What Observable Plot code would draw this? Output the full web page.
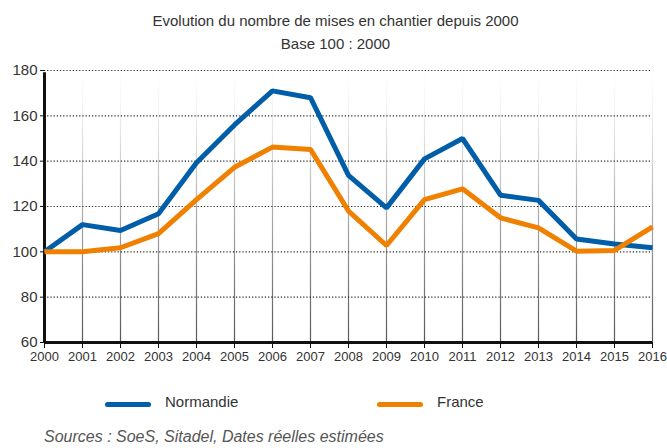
<!DOCTYPE html>
<html>
<head>
<meta charset="utf-8">
<script src="https://cdn.jsdelivr.net/npm/d3@7"></script>
<script src="https://cdn.jsdelivr.net/npm/@observablehq/plot@0.6"></script>
<style>
  html, body { margin: 0; padding: 0; background: #fff; }
  body { width: 667px; height: 448px; overflow: hidden; font-family: "Liberation Sans", sans-serif; color: #333; }
  #title { text-align: center; font-size: 15px; line-height: 23px; padding-top: 9px; height: 49px; padding-left: 4px; }
  #chart { height: 310px; }
  #chart svg { overflow: visible; }
  #legend { position: relative; height: 60px; font-size: 15px; }
  .sw { position: absolute; top: 34px; width: 46px; height: 5px; border-radius: 3px; }
  .lb { position: absolute; top: 25px; }
  #source { font-style: italic; font-size: 16px; line-height: 18px; color: #555; padding-left: 44px; }
</style>
</head>
<body>
<div id="title">Evolution du nombre de mises en chantier depuis 2000<br>Base 100 : 2000</div>
<div id="chart"></div>
<div id="legend">
  <div class="sw" style="left:105px;background:#005ea8"></div><div class="lb" style="left:165px">Normandie</div>
  <div class="sw" style="left:377px;background:#f08000"></div><div class="lb" style="left:437px">France</div>
</div>
<div id="source">Sources : SoeS, Sitadel, Dates réelles estimées</div>
<script>
const years = [2000,2001,2002,2003,2004,2005,2006,2007,2008,2009,2010,2011,2012,2013,2014,2015,2016];
const normandie = [100,112,109.4,116.8,139.3,156,171,168,133.7,119.4,141,150,125,122.7,105.7,103.5,101.8];
const france = [100,100,101.8,108,123,137.3,146.2,145.2,118,102.8,123,127.8,115,110.6,100.3,100.6,111];
const yTicks = [60,80,100,120,140,160,180];
const seriesNames = ["Normandie","France"];
const seriesColors = ["#005ea8","#f08000"];

const data = [];
years.forEach((y,i) => {
  data.push({year: y, value: normandie[i], serie: seriesNames[0]});
  data.push({year: y, value: france[i], serie: seriesNames[1]});
});

const plot = Plot.plot({
  width: 667,
  height: 310,
  marginTop: 12,
  marginBottom: 26,
  marginLeft: 44,
  marginRight: 15,
  style: {fontFamily: '"Liberation Sans", sans-serif', fontSize: "14px", color: "#333", background: "#fff", overflow: "visible"},
  x: {domain: [2000, 2016], label: null},
  y: {domain: [60, 180], label: null},
  color: {domain: seriesNames, range: seriesColors},
  marks: [
    Plot.ruleX(years.slice(1), {stroke: "url(#vgrad)", strokeWidth: 1.2}),
    Plot.ruleY(yTicks.slice(1), {stroke: "#222", strokeDasharray: "1.2,2", strokeWidth: 1.2}),
    Plot.axisX({ticks: years, tickFormat: d => String(d), tickSize: 6, tickPadding: 3, fontSize: 13, stroke: "#111", label: null}),
    Plot.axisY({ticks: yTicks, tickSize: 4, tickPadding: 3, fontSize: 15, stroke: "#111", label: null}),
    Plot.ruleY([60], {stroke: "#111", strokeWidth: 3}),
    Plot.ruleX([2000], {stroke: "#111", strokeWidth: 3, y1: 60, y2: 179}),
    Plot.line(data, {x: "year", y: "value", stroke: "serie", strokeWidth: 5, strokeLinejoin: "miter", strokeLinecap: "butt"})
  ]
});

const ns = "http://www.w3.org/2000/svg";
const defs = document.createElementNS(ns, "defs");
const grad = document.createElementNS(ns, "linearGradient");
grad.setAttribute("id", "vgrad");
grad.setAttribute("gradientUnits", "userSpaceOnUse");
grad.setAttribute("x1", "0"); grad.setAttribute("x2", "0");
grad.setAttribute("y1", "12"); grad.setAttribute("y2", "284");
[["0", "#ffffff"], ["0.15", "#f2f2f2"], ["1", "#555555"]].forEach(([o,c]) => {
  const s = document.createElementNS(ns, "stop");
  s.setAttribute("offset", o); s.setAttribute("stop-color", c);
  grad.appendChild(s);
});
defs.appendChild(grad);
plot.insertBefore(defs, plot.firstChild);
document.getElementById("chart").appendChild(plot);
</script>
</body>
</html>
